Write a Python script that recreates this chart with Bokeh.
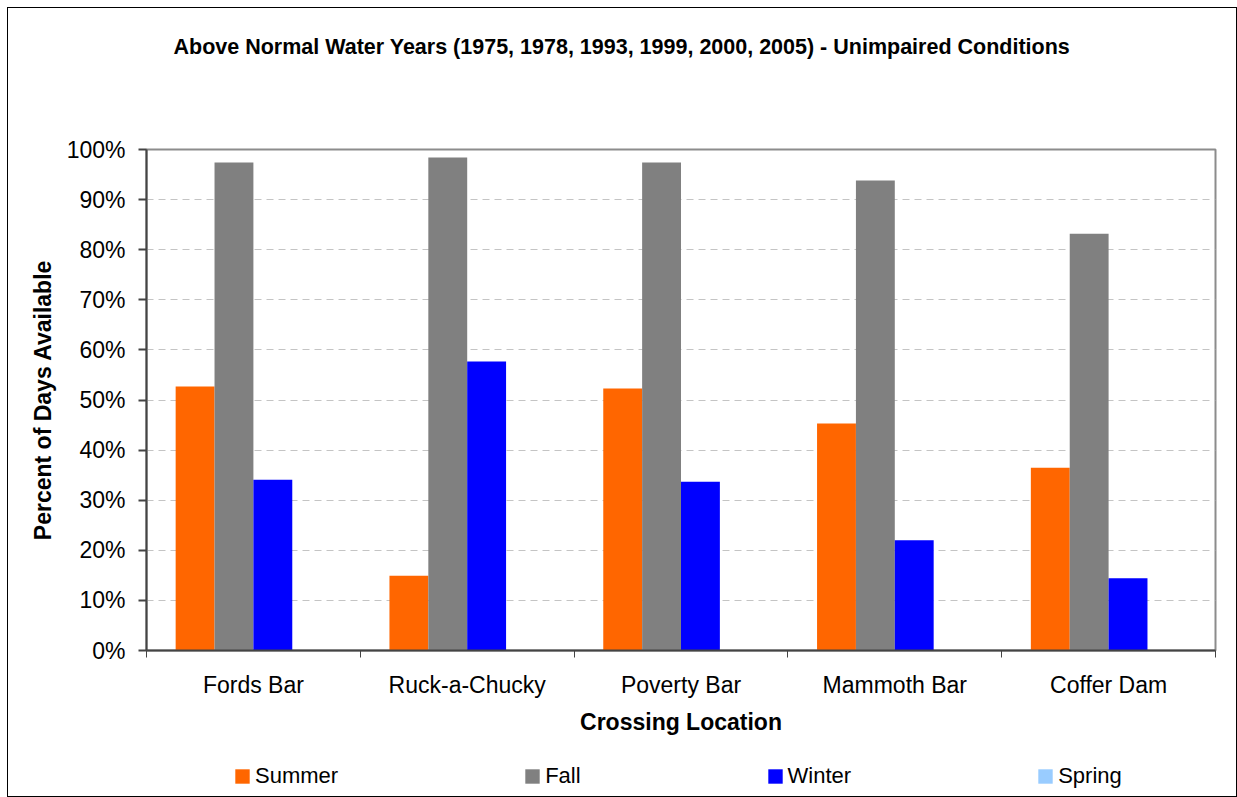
from bokeh.plotting import figure
from bokeh.layouts import column
from bokeh.models import (ColumnDataSource, Range1d, FixedTicker, PrintfTickFormatter,
                          Legend, LegendItem, Title)
from bokeh.transform import dodge
from bokeh.embed import file_html
from bokeh.resources import INLINE

# ---- data (percent of days available) ----
categories = ["Fords Bar", "Ruck-a-Chucky", "Poverty Bar", "Mammoth Bar", "Coffer Dam"]
summer = [52.7, 14.9, 52.3, 45.3, 36.5]
fall = [97.4, 98.4, 97.4, 93.8, 83.2]
winter = [34.1, 57.7, 33.7, 22.0, 14.4]
spring = [0.0, 0.0, 0.0, 0.0, 0.0]
series_names = ["Summer", "Fall", "Winter", "Spring"]
series_colors = ["#FF6600", "#808080", "#0000FF", "#99CCFF"]
y_ticks = [0, 10, 20, 30, 40, 50, 60, 70, 80, 90, 100]

title_text = "Above Normal Water Years (1975, 1978, 1993, 1999, 2000, 2005) - Unimpaired Conditions"
FONT = "Liberation Sans"

idx = list(range(len(categories)))
source = ColumnDataSource(dict(idx=idx, Summer=summer, Fall=fall, Winter=winter, Spring=spring))

W, H1, H2 = 1228, 732, 56
p = figure(width=W, height=H1, output_backend="svg", toolbar_location=None,
           x_range=Range1d(-0.5, len(categories) - 0.5), y_range=Range1d(0, 100),
           min_border_left=138, min_border_top=141, min_border_bottom=90, min_border_right=21)
p.background_fill_color = "white"
p.border_fill_color = "white"
p.outline_line_color = "#8c8c8c"
p.outline_line_width = 2

bw = 1 / 5.5
offsets = [-1.5 * bw, -0.5 * bw, 0.5 * bw, 1.5 * bw]
for name, col, off in zip(series_names, series_colors, offsets):
    p.vbar(x=dodge("idx", off), top=name, width=bw, source=source,
           fill_color=col, line_color=None)

# axes
yax = p.yaxis[0]
yax.ticker = FixedTicker(ticks=y_ticks)
yax.formatter = PrintfTickFormatter(format="%d%%")
yax.major_tick_out = 8
yax.major_tick_in = 0
yax.minor_tick_out = 0
yax.minor_tick_in = 0
yax.major_label_standoff = 13
yax.axis_line_color = "#444444"
yax.axis_line_width = 2
yax.major_tick_line_color = "#444444"
yax.major_tick_line_width = 2
yax.major_label_text_font = FONT
yax.major_label_text_font_size = "23px"
yax.major_label_text_color = "black"
yax.axis_label = "Percent of Days Available"
yax.axis_label_text_font = FONT
yax.axis_label_text_font_size = "23px"
yax.axis_label_text_font_style = "bold"
yax.axis_label_text_color = "black"
yax.axis_label_standoff = 8

xax = p.xaxis[0]
xax.ticker = FixedTicker(ticks=idx, minor_ticks=[i - 0.5 for i in idx] + [idx[-1] + 0.5])
xax.major_label_overrides = {i: c for i, c in zip(idx, categories)}
xax.major_tick_out = 0
xax.major_tick_in = 0
xax.minor_tick_out = 7
xax.minor_tick_in = 0
xax.minor_tick_line_color = "#444444"
xax.minor_tick_line_width = 1
xax.major_label_standoff = 14
xax.axis_line_color = "#444444"
xax.axis_line_width = 2
xax.major_label_text_font = FONT
xax.major_label_text_font_size = "23px"
xax.major_label_text_color = "black"
xax.axis_label = "Crossing Location"
xax.axis_label_text_font = FONT
xax.axis_label_text_font_size = "23px"
xax.axis_label_text_font_style = "bold"
xax.axis_label_text_color = "black"
xax.axis_label_standoff = 8

p.xgrid.grid_line_color = None
p.ygrid.ticker = FixedTicker(ticks=y_ticks[1:-1])
p.ygrid.grid_line_color = "#c4c4c4"
p.ygrid.grid_line_dash = "7 5"
p.ygrid.grid_line_width = 1

# spacer between frame and title (nearest the frame), then the title itself
p.add_layout(Title(text=" ", standoff=78, text_font_size="1px", text_font=FONT), "above")
p.add_layout(Title(text=title_text, align="left", offset=27, standoff=20,
                   text_font=FONT, text_font_size="21.5px", text_font_style="bold",
                   text_color="black"), "above")

# legend strip below the chart (its bars lie outside its visible range; only the swatches show)
lg = figure(width=W, height=H2, output_backend="svg", toolbar_location=None,
            x_range=Range1d(-0.5, len(categories) - 0.5), y_range=Range1d(200, 300),
            min_border_left=138, min_border_right=21, min_border_top=0, min_border_bottom=0)
lg.axis.visible = False
lg.grid.visible = False
lg.outline_line_color = None
lg.background_fill_color = "white"
lg.border_fill_color = "white"
swatches = []
for name, col, off in zip(series_names, series_colors, offsets):
    r = lg.vbar(x=dodge("idx", off), top=name, width=bw, source=source,
                fill_color=col, line_color=None)
    swatches.append(LegendItem(label=name, renderers=[r]))
legend = Legend(items=swatches, location=(87, 7), orientation="horizontal",
                glyph_width=18, glyph_height=18, label_standoff=4, padding=0, margin=0,
                spacing=185, border_line_color=None, background_fill_alpha=0,
                label_text_font=FONT, label_text_font_size="22px", label_text_color="black")
lg.add_layout(legend, "center")

layout = column(p, lg, spacing=0,
                styles={"border": "1px solid black", "margin-left": "7px", "margin-top": "7px"})

open("out.html", "w").write(file_html(layout, INLINE))
